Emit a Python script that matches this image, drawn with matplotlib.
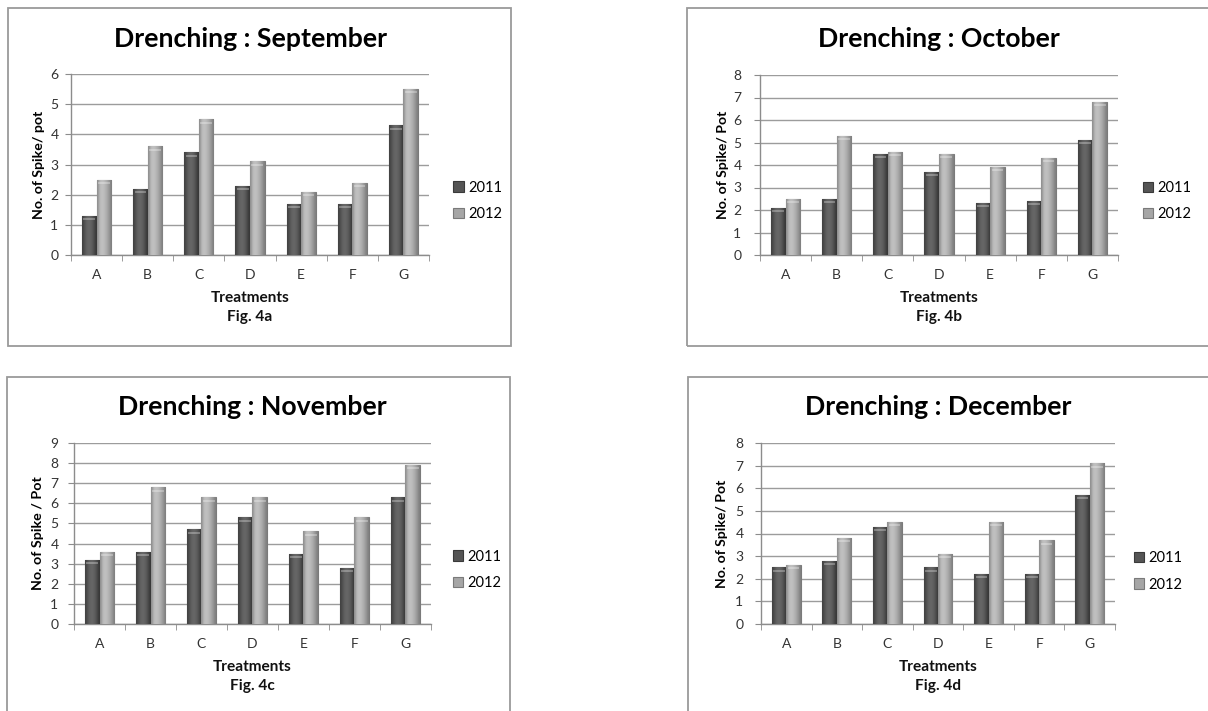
import numpy as np
import matplotlib
matplotlib.use("Agg")
import matplotlib.pyplot as plt
from matplotlib.patches import Rectangle

plt.rcParams['font.family'] = ['Lato', 'DejaVu Sans']

treatments = ["A", "B", "C", "D", "E", "F", "G"]
years = ["2011", "2012"]

sep_2011 = [1.3, 2.2, 3.4, 2.3, 1.7, 1.7, 4.3]
sep_2012 = [2.5, 3.6, 4.5, 3.1, 2.1, 2.4, 5.5]
oct_2011 = [2.1, 2.5, 4.5, 3.7, 2.3, 2.4, 5.1]
oct_2012 = [2.5, 5.3, 4.6, 4.5, 3.9, 4.3, 6.8]
nov_2011 = [3.2, 3.6, 4.7, 5.3, 3.5, 2.8, 6.3]
nov_2012 = [3.6, 6.8, 6.3, 6.3, 4.6, 5.3, 7.9]
dec_2011 = [2.5, 2.8, 4.3, 2.5, 2.2, 2.2, 5.7]
dec_2012 = [2.6, 3.8, 4.5, 3.1, 4.5, 3.7, 7.1]

titles = ["Drenching : September", "Drenching : October",
          "Drenching : November", "Drenching : December"]
ylabels = ["No. of Spike/ pot", "No. of Spike/ Pot",
           "No. of Spike / Pot", "No. of Spike/ Pot"]
xlabel = "Treatments"
fig_labels = ["Fig. 4a", "Fig. 4b", "Fig. 4c", "Fig. 4d"]
ymaxes = [6, 8, 9, 8]
series = [(sep_2011, sep_2012), (oct_2011, oct_2012),
          (nov_2011, nov_2012), (dec_2011, dec_2012)]

W, H = 1208, 711
fig = plt.figure(figsize=(W / 100, H / 100), dpi=100)
fig.patch.set_facecolor("white")

PT = 0.72  # points per pixel at 100 dpi

# pixel layouts: axes (left, right, top, bottom), panel box (l, t, r, b)
axes_px = [(71, 429, 74, 255), (760, 1118, 75, 255),
           (74, 431, 443, 624), (761, 1115, 443, 624)]
box_px = [(8, 8, 511, 346), (687, 8, 1215, 346),
          (7, 377, 510, 718), (688, 377, 1215, 718)]
legend_anchor = [(1.068, 0.30), (1.07, 0.30), (1.062, 0.30), (1.053, 0.29)]
title_center_px = [39, 39, 407, 407]
ylabel_offset_px = [32, 37, 36, 39]
ytick_gap_px = [7, 13, 10, 12]
ylabel_len_px = [108, 108, 113, 108]
title_len_px = 274
xlabel_len_px = 79


def fx(px):
    return px / W


def fy(py):
    return 1 - py / H


dark_grad = np.array([0.26, 0.32, 0.37, 0.40, 0.40, 0.38, 0.34, 0.28, 0.22])
light_grad = np.array([0.56, 0.70, 0.75, 0.75, 0.73, 0.69, 0.64, 0.58, 0.50])

title_texts, ylabel_texts, xlabel_texts, fig_texts = [], [], [], []

for k in range(4):
    l, t, r, b = box_px[k]
    fig.patches.append(Rectangle((fx(l), fy(b)), fx(r - l), (b - t) / H,
                                 transform=fig.transFigure, fill=False,
                                 edgecolor="#9a9a9a", linewidth=1.3))
    al, ar, at, ab = axes_px[k]
    ax = fig.add_axes([fx(al), fy(ab), fx(ar - al), (ab - at) / H])
    x = np.arange(len(treatments))
    w = 0.285
    s11, s12 = series[k]
    b1 = ax.bar(x - w / 2, s11, w, color="#555555", edgecolor="#3a3a3a",
                linewidth=0.8, label=years[0], zorder=3)
    b2 = ax.bar(x + w / 2, s12, w, color="#a6a6a6", edgecolor="#7a7a7a",
                linewidth=0.8, label=years[1], zorder=3)
    for bars, grad in ((b1, dark_grad), (b2, light_grad)):
        for p in bars:
            x0, w0, h0 = p.get_x(), p.get_width(), p.get_height()
            im = ax.imshow(grad[np.newaxis, :], cmap="gray", vmin=0, vmax=1,
                           extent=(x0, x0 + w0, 0, h0), aspect="auto",
                           interpolation="bicubic", zorder=3.5)
            im.set_clip_path(p)
            cap_h = ymaxes[k] * 0.018
            ax.plot([x0 + w0 * 0.1, x0 + w0 * 0.9], [h0 - cap_h, h0 - cap_h],
                    color="white", alpha=0.35, lw=1.2, zorder=3.6,
                    solid_capstyle="butt")
    ax.set_xlim(-0.5, len(treatments) - 0.5)
    ax.set_ylim(0, ymaxes[k])
    ax.set_yticks(np.arange(0, ymaxes[k] + 1, 1))
    ax.set_xticks(x)
    ax.set_xticklabels(treatments)
    ax.set_xticks(np.arange(-0.5, len(treatments), 1), minor=True)
    ax.tick_params(axis="x", which="major", length=0, pad=10,
                   labelsize=10, labelcolor="#333333")
    ax.tick_params(axis="x", which="minor", length=4, color="#8c8c8c",
                   direction="out")
    ax.tick_params(axis="y", length=4, color="#8c8c8c", labelsize=10,
                   labelcolor="#333333", pad=ytick_gap_px[k] * PT)
    ax.grid(axis="y", color="#9c9c9c", linewidth=1.0, zorder=0)
    ax.set_axisbelow(True)
    for side in ("top", "right"):
        ax.spines[side].set_visible(False)
    for side in ("left", "bottom"):
        ax.spines[side].set_color("#8c8c8c")
        ax.spines[side].set_linewidth(1.0)
    ax.set_facecolor("none")
    yl = ax.set_ylabel(ylabels[k], fontsize=10.5, fontweight="bold",
                       va="center")
    ax.yaxis.set_label_coords(-ylabel_offset_px[k] / (ar - al), 0.5)
    ylabel_texts.append(yl)
    tx = ax.annotate(xlabel, xy=(0.5, 0), xycoords="axes fraction",
                     xytext=(0, -43 * PT), textcoords="offset points",
                     ha="center", va="center", fontsize=11,
                     fontweight="bold", color="#111111")
    fg = ax.annotate(fig_labels[k], xy=(0.5, 0), xycoords="axes fraction",
                     xytext=(0, -62 * PT), textcoords="offset points",
                     ha="center", va="center", fontsize=11,
                     fontweight="bold", color="#111111")
    xlabel_texts.append(tx)
    fig_texts.append(fg)
    tt = ax.annotate(titles[k], xy=(0.5, 1), xycoords="axes fraction",
                     xytext=(0, (at - title_center_px[k]) * PT),
                     textcoords="offset points", ha="center", va="center",
                     fontsize=18.5, fontweight="bold", color="#000000")
    title_texts.append(tt)
    ax.legend(loc="center left", bbox_to_anchor=legend_anchor[k],
              frameon=False, fontsize=10.5, handlelength=0.7,
              handleheight=0.7, handletextpad=0.3, labelspacing=0.85,
              borderaxespad=0, borderpad=0)

# fit text sizes to the measured lengths in the reference
fig.canvas.draw()
renderer = fig.canvas.get_renderer()
tw = title_texts[0].get_window_extent(renderer).width
tsize = title_texts[0].get_fontsize() * title_len_px / tw
for tt in title_texts:
    tt.set_fontsize(tsize)
xw = xlabel_texts[0].get_window_extent(renderer).width
xsize = xlabel_texts[0].get_fontsize() * xlabel_len_px / xw
for t in xlabel_texts + fig_texts:
    t.set_fontsize(xsize)
for k, yl in enumerate(ylabel_texts):
    hgt = yl.get_window_extent(renderer).height
    yl.set_fontsize(yl.get_fontsize() * ylabel_len_px[k] / hgt)

fig.savefig("out.png", dpi=100, facecolor="white")
